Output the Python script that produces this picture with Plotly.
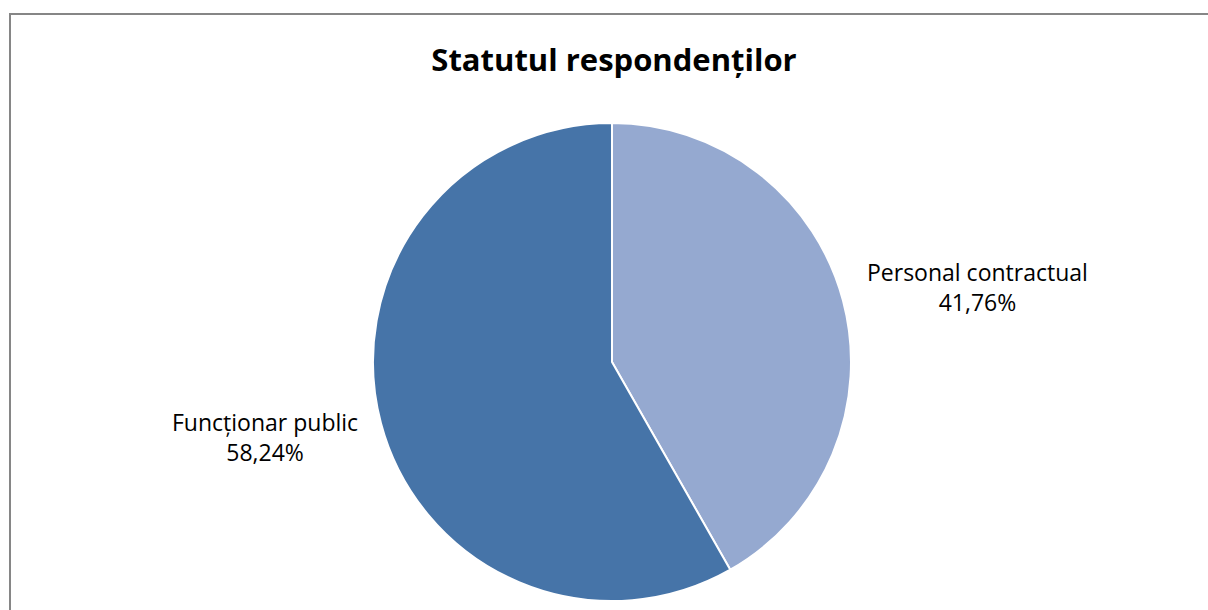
import plotly.graph_objects as go

categories = ["Personal contractual", "Funcționar public"]
shares = [41.76, 58.24]
slice_colors = ["#95A9D0", "#4674A8"]

W, H = 1208, 610

fig = go.Figure(
    go.Pie(
        labels=categories,
        values=shares,
        sort=False,
        direction="clockwise",
        rotation=0,
        marker=dict(colors=slice_colors, line=dict(color="white", width=2)),
        textinfo="none",
        showlegend=False,
        hoverinfo="label+percent",
        domain=dict(x=[373 / W, 851 / W], y=[(H - 601) / H, (H - 123) / H]),
    )
)

# data labels placed beside each slice, text built from the series values
label_anchors = [(977, 287), (265, 437)]
total = sum(shares)
for name, val, (px, py) in zip(categories, shares, label_anchors):
    pct = f"{val / total * 100:.2f}".replace(".", ",")
    fig.add_annotation(
        text=f"{name}<br>{pct}%",
        xref="paper",
        yref="paper",
        x=px / W,
        y=1 - py / H,
        xanchor="center",
        yanchor="middle",
        align="center",
        showarrow=False,
        font=dict(family="Open Sans, sans-serif", size=23, color="#000000"),
    )

fig.update_layout(
    width=W,
    height=H,
    margin=dict(l=0, r=0, t=0, b=0),
    paper_bgcolor="white",
    plot_bgcolor="white",
    title=dict(
        text="<b>Statutul respondenților</b>",
        x=614 / W,
        xanchor="center",
        y=1 - 60 / H,
        yanchor="middle",
        font=dict(family="Open Sans, sans-serif", size=31, color="#000000"),
    ),
    shapes=[
        dict(
            type="rect",
            xref="paper",
            yref="paper",
            x0=10 / W,
            x1=1.05,
            y0=-0.05,
            y1=1 - 14 / H,
            line=dict(color="#868686", width=2),
            fillcolor="rgba(0,0,0,0)",
        )
    ],
)

fig.write_html("out.html")
